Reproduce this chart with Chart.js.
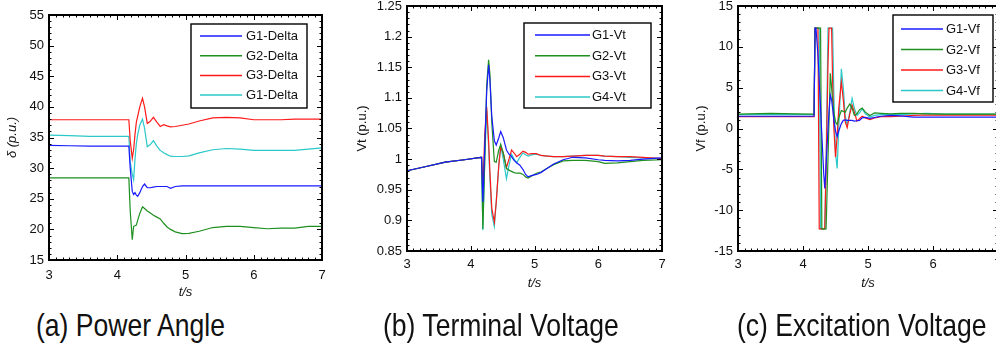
<!DOCTYPE html>
<html><head><meta charset="utf-8">
<script src="https://cdn.jsdelivr.net/npm/chart.js@4.4.0/dist/chart.umd.min.js"></script>
<style>
html,body{margin:0;padding:0;background:#fff;overflow:hidden;width:996px;height:345px;position:relative;}
.panel{position:absolute;top:0;}
.cap{position:absolute;top:309px;font-family:"Liberation Sans",Arial,sans-serif;font-size:32px;line-height:32px;white-space:nowrap;transform:scaleX(0.83);transform-origin:0 0;color:#111;}
</style></head><body>
<div class="panel" style="left:0px;width:340px;height:300px"><canvas id="ca" width="340" height="300"></canvas></div>
<div class="panel" style="left:330px;width:340px;height:300px"><canvas id="cb" width="340" height="300"></canvas></div>
<div class="panel" style="left:660px;width:340px;height:300px"><canvas id="cc" width="340" height="300"></canvas></div>
<div class="cap" style="left:36px">(a) Power Angle</div>
<div class="cap" style="left:383px">(b) Terminal Voltage</div>
<div class="cap" style="left:737px">(c) Excitation Voltage</div>
<script>
// ---------- shared x axis ----------
const xTicks = [3, 4, 5, 6, 7];
const xTickLabels = ['3', '4', '5', '6', '7'];

// ---------- (a) Power angle ----------
const tA = [3, 3.3, 3.6, 3.9, 4.17, 4.19, 4.22, 4.24, 4.26, 4.28, 4.30, 4.33, 4.37, 4.40, 4.44, 4.48, 4.53, 4.58, 4.63, 4.68, 4.73, 4.78, 4.85, 4.95, 5.05, 5.2, 5.4, 5.6, 5.8, 6.0, 6.2, 6.4, 6.6, 6.8, 7.0];
const deltaG1 = [33.7, 33.65, 33.6, 33.6, 33.6, 30.0, 26.2, 25.7, 26.0, 25.6, 25.4, 26.0, 27.0, 27.4, 26.8, 26.8, 26.9, 27.0, 27.0, 27.0, 27.0, 26.7, 27.0, 27.1, 27.1, 27.1, 27.1, 27.1, 27.1, 27.1, 27.1, 27.1, 27.1, 27.1, 27.1];
const deltaG2 = [28.4, 28.4, 28.4, 28.4, 28.4, 23.0, 18.3, 20.5, 20.6, 20.7, 21.5, 22.6, 23.7, 23.4, 23.0, 22.7, 22.3, 22.0, 21.7, 21.0, 20.4, 20.0, 19.6, 19.3, 19.35, 19.7, 20.3, 20.5, 20.5, 20.3, 20.1, 20.2, 20.2, 20.5, 20.5];
const deltaG3 = [37.9, 37.9, 37.9, 37.9, 37.9, 34.5, 31.6, 33.0, 35.5, 37.5, 38.5, 40.0, 41.4, 40.0, 37.3, 37.6, 38.3, 37.5, 36.8, 37.1, 36.9, 36.75, 36.8, 37.0, 37.2, 37.7, 38.2, 38.3, 38.2, 37.9, 37.9, 37.9, 38.0, 38.0, 38.0];
const deltaG4 = [35.4, 35.3, 35.2, 35.2, 35.2, 31.0, 29.0, 28.1, 31.5, 34.0, 35.5, 37.0, 38.0, 36.5, 33.5, 33.8, 34.5, 33.6, 32.9, 32.5, 32.2, 31.95, 31.9, 31.9, 32.0, 32.5, 33.0, 33.2, 33.1, 32.9, 32.9, 32.9, 32.9, 33.1, 33.3];
const yTicksA = [15, 20, 25, 30, 35, 40, 45, 50, 55];
const yTickLabelsA = ['15', '20', '25', '30', '35', '40', '45', '50', '55'];
const legendA = ['G1-Delta', 'G2-Delta', 'G3-Delta', 'G1-Delta'];

// ---------- (b) Terminal voltage ----------
const tB = [3, 3.3, 3.6, 3.9, 4.16, 4.17, 4.19, 4.22, 4.25, 4.28, 4.30, 4.33, 4.37, 4.40, 4.44, 4.47, 4.51, 4.56, 4.60, 4.64, 4.68, 4.72, 4.77, 4.82, 4.86, 4.90, 4.95, 5.03, 5.1, 5.2, 5.3, 5.45, 5.6, 5.8, 6.0, 6.1, 6.3, 6.5, 6.7, 7.0];
const vtG1 = [0.981, 0.988, 0.995, 0.999, 1.003, 1.003, 0.930, 1.020, 1.110, 1.154, 1.130, 1.070, 1.030, 1.023, 1.035, 1.045, 1.035, 1.015, 1.008, 1.004, 0.998, 0.994, 0.990, 0.983, 0.975, 0.971, 0.973, 0.975, 0.978, 0.985, 0.992, 0.999, 1.003, 1.002, 0.999, 0.998, 0.997, 0.998, 1.000, 1.002];
const vtG2 = [0.981, 0.988, 0.995, 0.999, 1.003, 1.003, 0.886, 1.000, 1.120, 1.162, 1.140, 1.060, 0.996, 0.995, 1.015, 1.024, 1.010, 0.985, 0.982, 0.980, 0.978, 0.977, 0.977, 0.975, 0.971, 0.969, 0.972, 0.977, 0.979, 0.985, 0.991, 0.997, 0.998, 0.998, 0.996, 0.993, 0.994, 0.996, 0.998, 0.999];
const vtG3 = [0.981, 0.988, 0.995, 0.999, 1.003, 1.003, 0.952, 1.040, 1.085, 1.030, 0.980, 0.920, 0.897, 0.930, 0.990, 1.020, 1.010, 0.986, 1.000, 1.015, 1.010, 1.004, 1.008, 1.013, 1.011, 1.008, 1.009, 1.009, 1.006, 1.005, 1.004, 1.004, 1.005, 1.006, 1.006, 1.005, 1.004, 1.004, 1.003, 1.001];
const vtG4 = [0.981, 0.988, 0.995, 0.999, 1.003, 1.003, 0.884, 1.000, 1.080, 1.020, 0.970, 0.910, 0.890, 0.930, 0.990, 1.022, 1.000, 0.968, 0.990, 1.008, 1.000, 0.994, 1.003, 1.010, 1.007, 1.005, 1.007, 1.008, 1.006, 1.005, 1.004, 1.004, 1.005, 1.006, 1.006, 1.005, 1.004, 1.003, 1.002, 1.001];
const yTicksB = [0.85, 0.9, 0.95, 1, 1.05, 1.1, 1.15, 1.2, 1.25];
const yTickLabelsB = ['0.85', '0.9', '0.95', '1', '1.05', '1.1', '1.15', '1.2', '1.25'];
const legendB = ['G1-Vt', 'G2-Vt', 'G3-Vt', 'G4-Vt'];

// ---------- (c) Excitation voltage ----------
const tC = [3, 3.5, 3.9, 4.17, 4.185, 4.20, 4.23, 4.25, 4.27, 4.29, 4.32, 4.335, 4.355, 4.385, 4.40, 4.42, 4.44, 4.455, 4.475, 4.50, 4.525, 4.55, 4.59, 4.62, 4.65, 4.68, 4.72, 4.755, 4.79, 4.83, 4.87, 4.91, 4.96, 5.03, 5.1, 5.2, 5.35, 5.5, 5.7, 5.9, 6.2, 6.5, 6.8, 7.0];
const vfG1 = [1.5, 1.5, 1.5, 1.5, 12.3, 12.3, 9.0, 5.75, 2.5, -0.8, -5.7, -7.35, -4.5, 0.0, 2.0, 4.1, 3.5, 2.5, 1.0, -0.3, -1.0, -0.3, 0.6, 1.0, 1.05, 1.0, 1.0, 1.0, 0.9, 0.95, 1.0, 1.3, 1.35, 1.25, 1.35, 1.5, 1.6, 1.55, 1.4, 1.4, 1.4, 1.4, 1.4, 1.4];
const vfG2 = [1.75, 1.85, 1.8, 1.75, 12.3, 12.3, 12.3, 12.3, 12.3, -12.3, -12.3, -12.3, -12.3, -3.5, 0.9, 6.75, 5.0, 3.5, 2.0, 0.8, 0.5, 1.3, 2.2, 2.1, 2.0, 2.5, 3.0, 2.5, 1.6, 1.8, 2.3, 2.5, 2.0, 1.6, 1.9, 1.85, 1.8, 1.85, 1.85, 1.8, 1.75, 1.75, 1.75, 1.75];
const vfG3 = [1.45, 1.45, 1.45, 1.45, 12.3, 12.3, 12.3, -12.3, -12.3, -12.3, -12.3, -12.3, -5.0, 8.0, 12.3, 12.3, 12.3, 6.0, 0.0, -3.5, -1.0, 2.5, 5.7, 3.5, 0.8, 0.1, 1.8, 2.86, 2.0, 0.9, 1.2, 1.5, 1.3, 1.1, 1.3, 1.45, 1.45, 1.5, 1.6, 1.65, 1.65, 1.65, 1.65, 1.65];
const vfG4 = [1.7, 1.7, 1.7, 1.7, 12.3, 12.3, 12.3, 12.3, -12.3, -12.3, -12.3, -12.3, -4.0, 12.3, 12.3, 12.3, 12.3, 12.3, 4.0, -3.0, -4.9, 0.0, 7.3, 5.0, 1.5, 0.4, 2.0, 3.7, 2.5, 1.6, 1.9, 2.4, 1.8, 1.4, 1.6, 1.7, 1.7, 1.7, 1.8, 1.85, 1.75, 1.75, 1.75, 1.75];
const yTicksC = [-15, -10, -5, 0, 5, 10, 15];
const yTickLabelsC = ['-15', '-10', '-5', '0', '5', '10', '15'];
const legendC = ['G1-Vf', 'G2-Vf', 'G3-Vf', 'G4-Vf'];

// ---------- styles ----------
const COLORS = ['#1a1aff', '#1f8f1f', '#ff1a1a', '#2ac8c8'];
const FONT = '"Liberation Sans", Arial, sans-serif';

function framePlugin(cfg) {
  return {
    id: 'frameBox',
    afterDraw(chart) {
      const ctx = chart.ctx;
      const a = chart.chartArea;
      const x = chart.scales.x, y = chart.scales.y;
      ctx.save();
      ctx.strokeStyle = '#000';
      ctx.lineWidth = 2;
      ctx.strokeRect(Math.round(a.left), Math.round(a.top), Math.round(a.right) - Math.round(a.left), Math.round(a.bottom) - Math.round(a.top));
      ctx.lineWidth = 1;
      ctx.beginPath();
      const nx = Math.round((x.max - x.min) / cfg.minorX);
      for (let i = 0; i <= nx; i++) {
        const v = x.min + i * cfg.minorX;
        const major = xTicks.some(t => Math.abs(t - v) < 1e-6);
        const len = major ? 5 : 2.5;
        const px = Math.round(x.getPixelForValue(v)) + 0.5;
        ctx.moveTo(px, a.bottom); ctx.lineTo(px, a.bottom - len);
        ctx.moveTo(px, a.top); ctx.lineTo(px, a.top + len);
      }
      const ny = Math.round((y.max - y.min) / cfg.minorY);
      for (let i = 0; i <= ny; i++) {
        const v = y.min + i * cfg.minorY;
        const major = cfg.yTicks.some(t => Math.abs(t - v) < 1e-6);
        const len = major ? 5 : 2.5;
        const py = Math.round(y.getPixelForValue(v)) + 0.5;
        ctx.moveTo(a.left, py); ctx.lineTo(a.left + len, py);
        ctx.moveTo(a.right, py); ctx.lineTo(a.right - len, py);
      }
      ctx.stroke();
      ctx.restore();
    }
  };
}

function legendPlugin(o) {
  return {
    id: 'boxLegend',
    afterDraw(chart) {
      const ctx = chart.ctx;
      const [l, t, w, h] = o.box;
      ctx.save();
      ctx.fillStyle = '#fff';
      ctx.fillRect(l, t, w, h);
      ctx.strokeStyle = '#000';
      ctx.lineWidth = 1.4;
      ctx.strokeRect(l, t, w, h);
      ctx.font = '13px ' + FONT;
      ctx.textBaseline = 'middle';
      ctx.textAlign = 'left';
      chart.data.datasets.forEach((ds, i) => {
        const yy = t + o.row0 + i * o.dy;
        ctx.strokeStyle = ds.borderColor;
        ctx.lineWidth = 1.5;
        ctx.beginPath(); ctx.moveTo(l + o.line0, yy); ctx.lineTo(l + o.line1, yy); ctx.stroke();
        ctx.fillStyle = '#111';
        ctx.fillText(ds.label, l + o.text, yy + 0.5);
      });
      ctx.restore();
    }
  };
}

function makeChart(id, t, series, labels, yMin, yMax, yTicks, yTickLabels, yTitle, yTitleItalic, lay, legend, minorY) {
  const datasets = series.map((s, k) => ({
    label: labels[k],
    data: t.map((tv, i) => ({ x: tv, y: s[i] })),
    borderColor: COLORS[k],
    borderWidth: 1.2,
    pointRadius: 0,
    tension: 0,
    fill: false
  }));
  return new Chart(document.getElementById(id), {
    type: 'line',
    data: { datasets },
    plugins: [framePlugin({ minorX: 0.1, minorY: minorY, yTicks: yTicks }), legendPlugin(legend)],
    options: {
      responsive: false,
      animation: false,
      layout: { padding: { left: 0, top: lay.top, right: lay.right, bottom: 0 } },
      plugins: {
        legend: { display: false },
        tooltip: { enabled: false }
      },
      scales: {
        x: {
          type: 'linear', min: 3, max: 7,
          grid: { display: false, drawTicks: false },
          border: { display: false },
          afterBuildTicks: ax => { ax.ticks = xTicks.map(v => ({ value: v })); },
          afterFit: ax => { ax.height = lay.xh; ax.paddingLeft = 0; ax.paddingRight = 0; },
          ticks: { autoSkip: false, maxRotation: 0, padding: lay.xpad, color: '#111', font: { family: FONT, size: 13 }, callback: (v, i) => xTickLabels[i] },
          title: { display: true, text: 't/s', color: '#111', padding: { top: 0, bottom: lay.xtpad }, font: { family: FONT, size: 13, style: 'italic' } }
        },
        y: {
          type: 'linear', min: yMin, max: yMax,
          grid: { display: false, drawTicks: false },
          border: { display: false },
          afterBuildTicks: ax => { ax.ticks = yTicks.map(v => ({ value: v })); },
          afterFit: ax => { ax.width = lay.yw; ax.paddingTop = 0; ax.paddingBottom = 0; },
          ticks: { autoSkip: false, padding: lay.ypad, color: '#111', font: { family: FONT, size: 13 }, callback: (v, i) => yTickLabels[i] },
          title: { display: true, text: yTitle, color: '#111', padding: { top: lay.ytpad, bottom: 0 }, font: { family: FONT, size: 13, style: yTitleItalic ? 'italic' : 'normal' } }
        }
      }
    }
  });
}

makeChart('ca', tA, [deltaG1, deltaG2, deltaG3, deltaG4], legendA, 15, 55, yTicksA, yTickLabelsA, 'δ (p.u.)', true,
  { top: 15, right: 18, yw: 49, xh: 40, xpad: 8, ypad: 5, xtpad: 0, ytpad: 5 },
  { box: [191, 24, 116, 84], row0: 12, dy: 19.7, line0: 9, line1: 51, text: 55 }, 1);

makeChart('cb', tB, [vtG1, vtG2, vtG3, vtG4], legendB, 0.85, 1.25, yTicksB, yTickLabelsB, 'Vt (p.u.)', false,
  { top: 6, right: 8, yw: 77, xh: 49, xpad: 6, ypad: 5, xtpad: 9, ytpad: 25 },
  { box: [194, 23, 127, 85], row0: 12, dy: 20.7, line0: 11, line1: 66, text: 68 }, 0.01);

makeChart('cc', tC, [vfG1, vfG2, vfG3, vfG4], legendC, -15, 15, yTicksC, yTickLabelsC, 'Vf (p.u.)', false,
  { top: 6, right: 2, yw: 78, xh: 49, xpad: 6, ypad: 5, xtpad: 9, ytpad: 34 },
  { box: [233, 15, 100, 87], row0: 14, dy: 20.5, line0: 8, line1: 50, text: 53 }, 1);
</script>
</body></html>
